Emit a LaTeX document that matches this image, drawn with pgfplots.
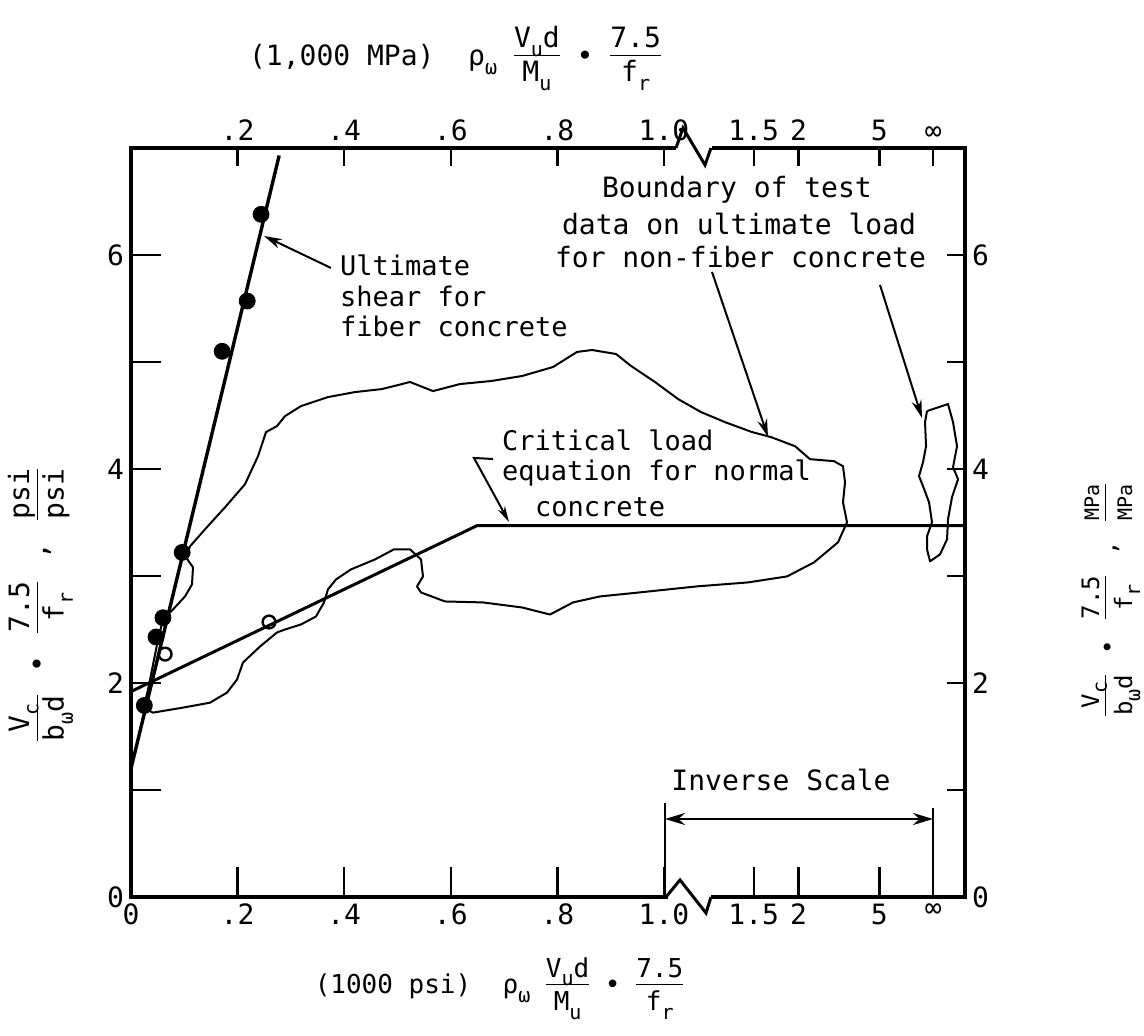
\documentclass[border=0pt]{standalone}
\usepackage{fontspec}
\setmainfont{DejaVu Sans Mono}
\usepackage{pgfplots}
\pgfplotsset{compat=1.18}
\usetikzlibrary{arrows.meta}
\newcommand{\sub}[1]{\raisebox{-0.6ex}{\fontsize{10}{10}\selectfont #1}}
\newcommand{\fr}[2]{\begin{tabular}{@{}c@{}}#1\\[-1pt]\hline\rule{0pt}{13pt}#2\end{tabular}}
\newcommand{\gap}{\ \hspace{3pt}}
\begin{document}
\begin{tikzpicture}[font=\fontsize{14}{16}\selectfont]
\useasboundingbox (-65.5pt,-69.5pt) rectangle (506.5pt,448.5pt);
\pgfplotsset{base/.style={at={(0,0)},anchor=south west,scale only axis,
  width=417pt,height=374.5pt,xmin=0,xmax=1.5647,ymin=0,ymax=7,
  axis line style={line width=2pt},tick align=inside,
  every tick/.style={black,line width=1.2pt},
  xtick={0,0.2,0.4,0.6,0.8,1.0,1.1683,1.2525,1.404,1.505},
  ytick={0,1,2,3,4,5,6}, yticklabels={0,,2,,4,,6},
  tick label style={font=\fontsize{14}{14}\selectfont},
  /pgf/number format/assume math mode=true, clip=false}}
\begin{axis}[base, xtick pos=left, ytick pos=left, major tick length=15pt,
  xticklabels={0,.2,.4,.6,.8,1.0,1.5,2,5,∞}]
% boundary of test data, non-fiber concrete (main region)
\addplot[line width=1pt, line join=round] coordinates {
(0.0244,1.788) (0.0319,1.938) (0.0413,2.172) (0.0507,2.406) (0.0600,2.594)
(0.0788,2.687) (0.1013,2.809) (0.1144,2.921) (0.1163,3.081) (0.1032,3.174)
(0.1107,3.277) (0.1388,3.436) (0.1764,3.642) (0.2139,3.858) (0.2383,4.120)
(0.2533,4.345) (0.2739,4.401) (0.2889,4.494) (0.3189,4.588) (0.3696,4.672)
(0.4203,4.719) (0.4709,4.747) (0.5235,4.813) (0.5666,4.728) (0.6173,4.794)
(0.6754,4.822) (0.7336,4.869) (0.7917,4.953) (0.8368,5.094) (0.8649,5.112)
(0.9099,5.075) (0.9381,4.963) (0.9831,4.813) (1.0263,4.654) (1.0694,4.532)
(1.1144,4.438) (1.1651,4.345) (1.2008,4.298) (1.2458,4.213) (1.2739,4.092)
(1.3189,4.073) (1.3358,4.026) (1.3396,3.876) (1.3358,3.689) (1.3433,3.502)
(1.3265,3.315) (1.2814,3.127) (1.2308,2.996) (1.1576,2.940) (1.0619,2.903)
(0.9531,2.846) (0.8799,2.809) (0.8293,2.753) (0.7861,2.640) (0.7336,2.706)
(0.6604,2.753) (0.5891,2.762) (0.5441,2.846) (0.5366,2.903) (0.5478,2.996)
(0.5441,3.155) (0.5235,3.249) (0.4934,3.249) (0.4578,3.155) (0.4128,3.062)
(0.3846,2.968) (0.3696,2.875) (0.3621,2.753) (0.3471,2.622) (0.3189,2.547)
(0.2889,2.500) (0.2739,2.472) (0.2420,2.341) (0.2101,2.191) (0.1989,2.032)
(0.1801,1.910) (0.1482,1.816) (0.0976,1.770) (0.0413,1.723) (0.0300,1.751)
(0.0244,1.788)};
% boundary near infinity
\addplot[line width=1pt, line join=round] coordinates {
(1.4934,4.541) (1.5328,4.607) (1.5422,4.438) (1.5497,4.213) (1.5422,4.017)
(1.5516,3.904) (1.5403,3.736) (1.5328,3.530) (1.5310,3.343) (1.5178,3.202)
(1.4991,3.137) (1.4934,3.249) (1.4934,3.371) (1.5028,3.502) (1.4972,3.689)
(1.4859,3.839) (1.4784,3.933) (1.4859,4.064) (1.4916,4.213) (1.4897,4.438)
(1.4934,4.541)};
% critical load equation
\addplot[line width=1.5pt] coordinates {(0,1.92) (0.649,3.47) (1.5647,3.47)};
% ultimate shear for fiber concrete
\addplot[line width=1.7pt] coordinates {(0,1.2) (0.278,6.93)};
% fiber concrete tests
\addplot[only marks, mark=*, mark size=4pt, black] coordinates {
(0.244,6.38) (0.218,5.57) (0.171,5.10) (0.096,3.22) (0.060,2.61) (0.047,2.43) (0.025,1.79)};
\addplot[only marks, mark=o, mark size=3.2pt, black, mark options={fill=white, line width=1.2pt}] coordinates {
(0.064,2.27) (0.259,2.57)};
\end{axis}
\begin{axis}[base, xtick pos=right, ytick pos=right, xticklabel pos=right, yticklabel pos=right,
  major tick length=9pt, xticklabels={,.2,.4,.6,.8,1.0,1.5,2,5,∞}]
\end{axis}
\begin{scope}[shift={(-65.5pt,448.5pt)},x=0.5pt,y=-0.5pt]
% axis breaks
\fill[white] (668,893) rectangle (711,901);
\draw[line width=1.5pt, line join=miter] (666,897) -- (680,880) -- (706,913) -- (711,897);
\fill[white] (676,144) rectangle (712,152);
\draw[line width=1.5pt, line join=miter] (676,148) -- (683,128) -- (705,165) -- (711,148);
% annotations
\begin{scope}[font=\fontsize{13.5}{15}\selectfont]
\node[anchor=west] at (333,265) {Ultimate};
\node[anchor=west] at (333,296) {shear for};
\node[anchor=west] at (333,326) {fiber concrete};
\node[anchor=west] at (495,440) {Critical load};
\node[anchor=west] at (495,473) {equation for normal};
\node[anchor=west] at (528,507) {concrete};
\end{scope}
\draw[line width=1pt, -{Stealth[length=9pt,width=5pt]}] (331,268) -- (264,236);
\draw[line width=1pt, -{Stealth[length=8pt,width=4pt]}] (493,459) -- (474,458) -- (509,522);
\node[anchor=west] at (595,190) {Boundary of test};
\node[anchor=west] at (555,224) {data on ultimate load};
\node[anchor=west] at (548,257) {for non-fiber concrete};
\draw[line width=1pt, -{Stealth[length=9pt,width=5pt]}] (712,272) -- (768,437);
\draw[line width=1pt, -{Stealth[length=9pt,width=5pt]}] (880,285) -- (922,418);
\node at (781,780) {Inverse Scale};
\draw[line width=1.3pt, {Stealth[length=10pt,width=6pt]}-{Stealth[length=10pt,width=6pt]}] (665,819) -- (933,819);
\draw[line width=1.3pt] (665,803) -- (665,897);
\draw[line width=1.3pt] (933,808) -- (933,897);
% axis titles
\node[font=\fontsize{14}{16}\selectfont] at (455,58) {(1,000 MPa)\ \ ρ\sub{ω}\ \fr{V\sub{u}d}{M\sub{u}}\ •\ \fr{7.5}{f\sub{r}}};
\node[font=\fontsize{13}{15}\selectfont] at (499,988) {(1000 psi)\ \ ρ\sub{ω}\ \fr{V\sub{u}d}{M\sub{u}}\ •\ \fr{7.5}{f\sub{r}}};
\node[rotate=90, font=\fontsize{14}{16}\selectfont] at (40,605) {\fr{V\sub{c}}{b\sub{ω}d}\gap•\gap\fr{7.5}{f\sub{r}}\gap,\gap\fr{psi}{psi}};
\node[rotate=90, font=\fontsize{12}{14}\selectfont] at (1110,600) {\fr{V\sub{c}}{b\sub{ω}d}\gap•\gap\fr{7.5}{f\sub{r}}\gap,\gap\fr{\fontsize{10}{10}\selectfont MPa}{\fontsize{10}{10}\selectfont MPa}};
\end{scope}
\end{tikzpicture}
\end{document}
